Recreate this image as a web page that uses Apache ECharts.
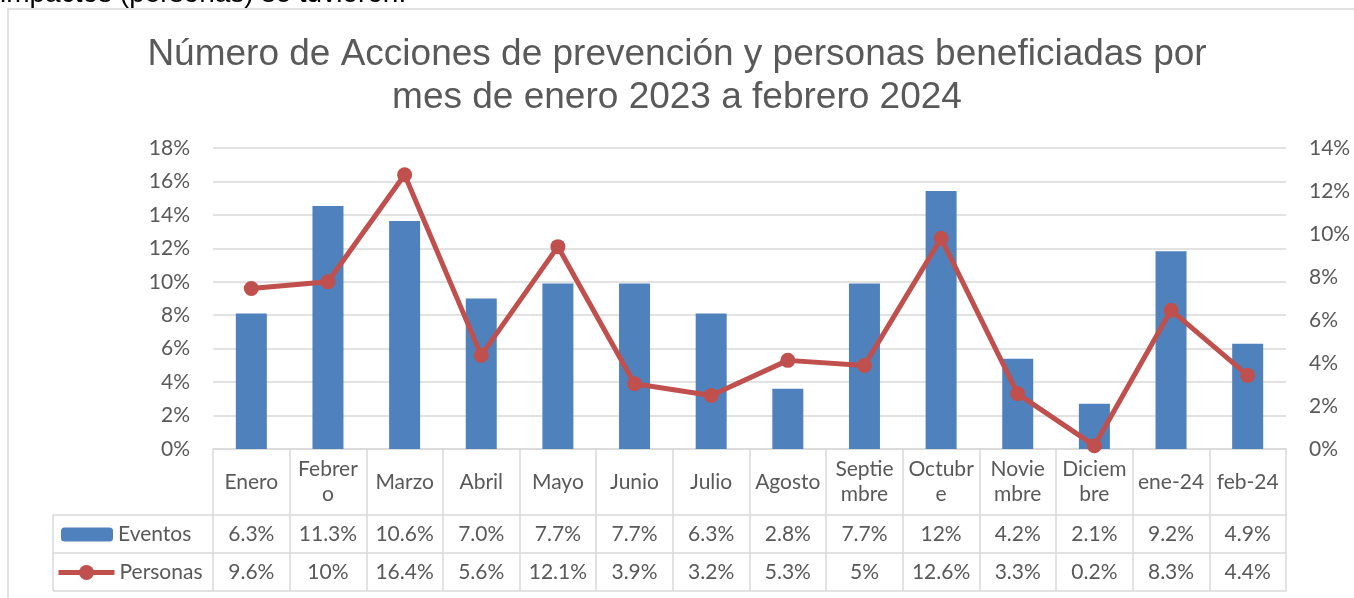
<!DOCTYPE html>
<html>
<head>
<meta charset="utf-8">
<script src="https://cdn.jsdelivr.net/npm/echarts@6/dist/echarts.min.js"></script>
<style>
  html, body { margin: 0; padding: 0; background: #fff; }
  #chart1 { width: 1354px; height: 598px; }
</style>
</head>
<body>
<div id="chart1"></div>
<script>
const meses = ["Enero", "Febrer\no", "Marzo", "Abril", "Mayo", "Junio", "Julio", "Agosto",
  "Septie\nmbre", "Octubr\ne", "Novie\nmbre", "Diciem\nbre", "ene-24", "feb-24"];

// % de eventos (eje derecho) y % de personas (eje izquierdo)
const eventos = [6.3, 11.3, 10.6, 7.0, 7.7, 7.7, 6.3, 2.8, 7.7, 12, 4.2, 2.1, 9.2, 4.9];
const personas = [9.6, 10, 16.4, 5.6, 12.1, 3.9, 3.2, 5.3, 5, 12.6, 3.3, 0.2, 8.3, 4.4];

// textos de la tabla de datos
const eventosTxt = ["6.3%", "11.3%", "10.6%", "7.0%", "7.7%", "7.7%", "6.3%", "2.8%",
  "7.7%", "12%", "4.2%", "2.1%", "9.2%", "4.9%"];
const personasTxt = ["9.6%", "10%", "16.4%", "5.6%", "12.1%", "3.9%", "3.2%", "5.3%",
  "5%", "12.6%", "3.3%", "0.2%", "8.3%", "4.4%"];

const gris = "#595959";
const linea = "#d9d9d9";
const fuente = "Lato";

const getOptionChart1 = () => {
  const tablaAxis = (data, offset, showLabel) => ({
    type: "category",
    gridIndex: 0,
    position: "bottom",
    offset: offset,
    data: data,
    axisLine: { show: true, onZero: false, lineStyle: { color: linea, width: 1.5 } },
    axisTick: { show: false },
    axisLabel: {
      show: showLabel,
      interval: 0,
      margin: 19,
      verticalAlign: "middle",
      fontSize: 21,
      fontFamily: fuente,
      color: gris,
    },
  });

  const leyendaTexto = { fontSize: 21, fontFamily: fuente, color: gris };

  return {
    backgroundColor: "#fff",
    animation: false,
    title: {
      text: "Número de Acciones de prevención y personas beneficiadas por\nmes de enero 2023 a febrero 2024",
      left: "center",
      top: 33,
      padding: 0,
      textStyle: {
        fontFamily: "Liberation Sans",
        fontWeight: "normal",
        fontSize: 37,
        lineHeight: 43,
        color: gris,
      },
    },
    legend: [
      {
        left: 61,
        top: 524,
        padding: 0,
        itemWidth: 52,
        itemHeight: 14,
        textStyle: leyendaTexto,
        data: ["Eventos"],
      },
      {
        left: 56,
        top: 562,
        padding: 0,
        itemWidth: 56,
        itemHeight: 19,
        lineStyle: { width: 5 },
        textStyle: leyendaTexto,
        data: ["Personas"],
      },
    ],
    grid: { left: 213, right: 68, top: 148, bottom: 149 },
    xAxis: [
      {
        type: "category",
        data: meses,
        axisLine: { show: true, onZero: false, lineStyle: { color: linea, width: 1.5 } },
        axisTick: { show: true, length: 142, interval: 0, lineStyle: { color: linea, width: 1.5 } },
        axisLabel: {
          interval: 0,
          margin: 33,
          verticalAlign: "middle",
          lineHeight: 25,
          fontSize: 21,
          fontFamily: fuente,
          color: gris,
        },
      },
      tablaAxis(eventosTxt, 66, true),
      tablaAxis(personasTxt, 104, true),
      tablaAxis(meses, 142, false),
    ],
    yAxis: [
      {
        type: "value",
        min: 0,
        max: 18,
        interval: 2,
        axisLine: { show: false },
        axisTick: { show: false },
        axisLabel: { formatter: "{value}%", margin: 23, fontSize: 21, fontFamily: fuente, color: gris },
        splitLine: { lineStyle: { color: linea, width: 1.5 } },
      },
      {
        type: "value",
        position: "right",
        min: 0,
        max: 14,
        interval: 2,
        axisLine: { show: false },
        axisTick: { show: false },
        axisLabel: { formatter: "{value}%", margin: 23, fontSize: 21, fontFamily: fuente, color: gris },
        splitLine: { show: false },
      },
    ],
    series: [
      {
        name: "Eventos",
        type: "bar",
        xAxisIndex: 0,
        yAxisIndex: 1,
        data: eventos,
        barWidth: 31,
        itemStyle: { color: "#4f81bd" },
      },
      {
        name: "Personas",
        type: "line",
        xAxisIndex: 0,
        yAxisIndex: 0,
        data: personas,
        symbol: "circle",
        symbolSize: 15,
        z: 5,
        itemStyle: { color: "#c0504d" },
        lineStyle: { color: "#c0504d", width: 5 },
      },
    ],
    graphic: [
      {
        type: "text",
        left: 0,
        top: -20,
        style: { text: "impactos (personas) se tuvieron.", font: "28px 'Liberation Sans'", fill: "#000" },
      },
      {
        type: "rect",
        shape: { x: 8, y: 9, width: 1400, height: 640 },
        style: { fill: "none", stroke: linea, lineWidth: 1.5 },
        silent: true,
      },
      { type: "line", shape: { x1: 53, y1: 515, x2: 213, y2: 515 }, style: { stroke: linea, lineWidth: 1.5 } },
      { type: "line", shape: { x1: 53, y1: 553, x2: 213, y2: 553 }, style: { stroke: linea, lineWidth: 1.5 } },
      { type: "line", shape: { x1: 53, y1: 591, x2: 213, y2: 591 }, style: { stroke: linea, lineWidth: 1.5 } },
      { type: "line", shape: { x1: 53, y1: 515, x2: 53, y2: 591 }, style: { stroke: linea, lineWidth: 1.5 } },
    ],
  };
};

const initCharts = () => {
  const chart1 = echarts.init(document.getElementById("chart1"));
  chart1.setOption(getOptionChart1());
};

window.addEventListener("load", () => {
  initCharts();
});
</script>
</body>
</html>
